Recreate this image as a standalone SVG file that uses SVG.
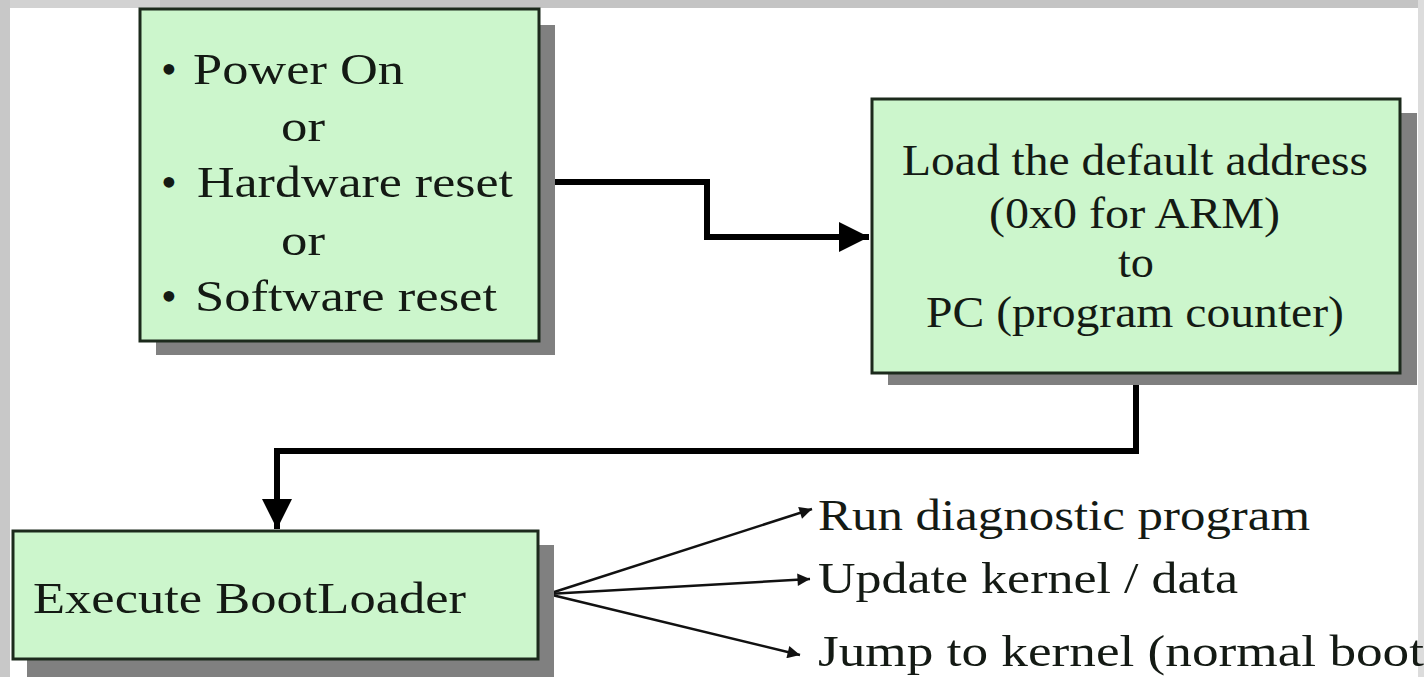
<svg xmlns="http://www.w3.org/2000/svg" width="1424" height="677" viewBox="0 0 1424 677">
  <style>
    .box { fill: #ccf6cc; stroke: #1c2a1c; stroke-width: 3; }
    .shadow { fill: #808080; }
    .t { font-family: "Liberation Serif", "Times New Roman", serif; font-size: 45px; fill: #141a14; }
    .link { fill: none; stroke: #000; stroke-width: 6; }
    .fan { fill: none; stroke: #111; stroke-width: 2.5; }
  </style>
  <defs>
    <marker id="head" viewBox="0 0 10 10" refX="10" refY="5" markerWidth="5" markerHeight="5" orient="auto" markerUnits="strokeWidth">
      <path d="M0,0 L10,5 L0,10 z" fill="#000"/>
    </marker>
    <marker id="thin" viewBox="0 0 10 10" refX="10" refY="5" markerWidth="6" markerHeight="5" orient="auto" markerUnits="strokeWidth">
      <path d="M0,0 L10,5 L0,10 z" fill="#111"/>
    </marker>
  </defs>

  <!-- page frame -->
  <rect x="0" y="0" width="1424" height="677" fill="#ffffff"/>
  <rect x="0" y="0" width="1424" height="8" fill="#c4c4c4"/>
  <rect x="0" y="0" width="160" height="8" fill="#d2d2d2"/>
  <rect x="0" y="0" width="10" height="677" fill="#c8c8c8"/>
  <rect x="1418" y="0" width="6" height="677" fill="#dcdcdc"/>

  <!-- connectors -->
  <g id="connectors">
    <path class="link" d="M540,182 H707 V237 H869" marker-end="url(#head)"/>
    <path class="link" d="M1136,374 V451 H277 V529" marker-end="url(#head)"/>
    <path class="fan" d="M548,594 L812,509" marker-end="url(#thin)"/>
    <path class="fan" d="M548,594 L810,579" marker-end="url(#thin)"/>
    <path class="fan" d="M548,594 L800,655" marker-end="url(#thin)"/>
  </g>

  <!-- reset sources -->
  <g id="reset-sources">
    <rect class="shadow" x="156" y="25" width="399" height="330"/>
    <rect class="box" x="140" y="9" width="399" height="332"/>
    <text class="t" x="161" y="84">•</text>
    <text class="t" x="193" y="84" textLength="211" lengthAdjust="spacingAndGlyphs">Power On</text>
    <text class="t" x="281" y="141" textLength="44" lengthAdjust="spacingAndGlyphs">or</text>
    <text class="t" x="161" y="197">•</text>
    <text class="t" x="197" y="197" textLength="316" lengthAdjust="spacingAndGlyphs">Hardware reset</text>
    <text class="t" x="281" y="255" textLength="44" lengthAdjust="spacingAndGlyphs">or</text>
    <text class="t" x="161" y="311">•</text>
    <text class="t" x="195" y="311" textLength="302" lengthAdjust="spacingAndGlyphs">Software reset</text>
  </g>

  <!-- load default address -->
  <g id="load-pc">
    <rect class="shadow" x="888" y="113" width="529" height="272"/>
    <rect class="box" x="872" y="99" width="528" height="274"/>
    <text class="t" x="902" y="175" textLength="466" lengthAdjust="spacingAndGlyphs">Load the default address</text>
    <text class="t" x="989" y="228" textLength="291" lengthAdjust="spacingAndGlyphs">(0x0 for ARM)</text>
    <text class="t" x="1118" y="277" textLength="36" lengthAdjust="spacingAndGlyphs">to</text>
    <text class="t" x="926" y="327" textLength="418" lengthAdjust="spacingAndGlyphs">PC (program counter)</text>
  </g>

  <!-- bootloader -->
  <g id="bootloader">
    <rect class="shadow" x="27" y="545" width="527" height="132"/>
    <rect class="box" x="13" y="531" width="525" height="128"/>
    <text class="t" x="33" y="613" textLength="433" lengthAdjust="spacingAndGlyphs">Execute BootLoader</text>
  </g>

  <!-- bootloader choices -->
  <g id="choices">
    <text class="t" x="818" y="530" textLength="492" lengthAdjust="spacingAndGlyphs">Run diagnostic program</text>
    <text class="t" x="818" y="593" textLength="420" lengthAdjust="spacingAndGlyphs">Update kernel / data</text>
    <text class="t" x="818" y="666" textLength="606" lengthAdjust="spacingAndGlyphs">Jump to kernel (normal boot</text>
  </g>
</svg>
